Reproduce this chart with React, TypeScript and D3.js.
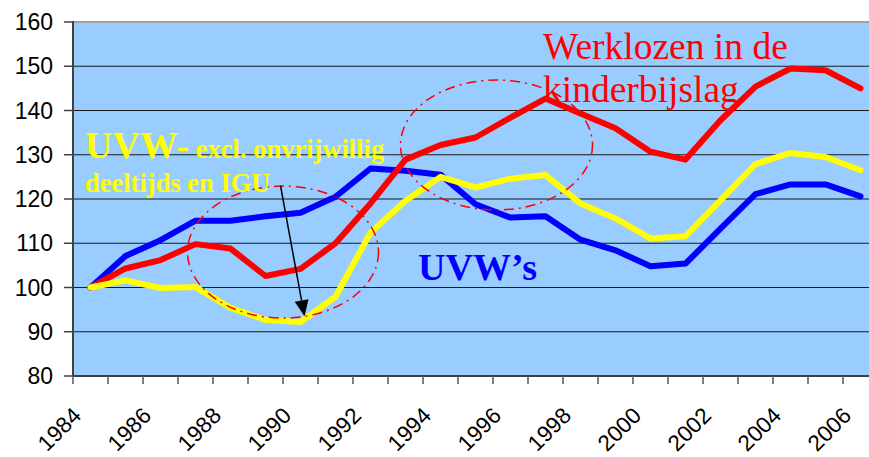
import React from 'react';
import * as d3 from 'd3';

const years = [1984, 1985, 1986, 1987, 1988, 1989, 1990, 1991, 1992, 1993, 1994, 1995,
  1996, 1997, 1998, 1999, 2000, 2001, 2002, 2003, 2004, 2005, 2006];

const uvw = [100, 107.1, 110.7, 115.1, 115.1, 116.1, 116.9, 120.5, 126.9, 126.4, 125.5, 118.8,
  115.8, 116.1, 110.8, 108.4, 104.8, 105.4, 113.3, 121.1, 123.3, 123.3, 120.6];
const kinderbijslag = [100, 104.3, 106.2, 109.8, 108.8, 102.6, 104.2, 110.0, 119.0, 128.9, 132.2, 133.9,
  138.4, 142.7, 139.3, 136.0, 130.7, 128.9, 137.8, 145.4, 149.5, 149.1, 145.0];
const uvwExcl = [100, 101.6, 99.9, 100.1, 95.4, 92.7, 92.2, 97.9, 112.4, 119.6, 125.0, 122.6,
  124.6, 125.4, 119.0, 115.6, 111.1, 111.6, 119.7, 127.9, 130.4, 129.5, 126.5];

const yTicks = [80, 90, 100, 110, 120, 130, 140, 150, 160];
const labelYears = [1984, 1986, 1988, 1990, 1992, 1994, 1996, 1998, 2000, 2002, 2004, 2006];

const width = 869;
const height = 457;
const left = 73;
const top = 22;
const bottom = 376;
const bw = 35;

const sans = '"Liberation Sans", Arial, sans-serif';
const serif = '"Liberation Serif", "Times New Roman", serif';

export default function App() {
  const x = d3.scaleBand<number>().domain(years).range([left, left + bw * years.length]);
  const y = d3.scaleLinear().domain([80, 160]).range([bottom, top]);
  const cx = (yr: number) => (x(yr) as number) + x.bandwidth() / 2;

  const line = d3.line<number>()
    .x((_, i) => cx(years[i]))
    .y(d => y(d));

  const series = [
    { name: "UVW's", values: uvw, color: '#0000ff' },
    { name: 'Werklozen in de kinderbijslag', values: kinderbijslag, color: '#ff0000' },
    { name: 'UVW- excl. onvrijwillig deeltijds en IGU', values: uvwExcl, color: '#ffff00' },
  ];

  const plotRight = left + bw * years.length;
  const tickEdges = years.map(yr => x(yr) as number).concat([plotRight]);

  // annotation positions, in chart coordinates
  const e1 = { cx: cx(1989) + bw / 2, cy: y(108), rx: 95.5, ry: 66 };
  const e2 = { cx: cx(1995) + 0.6 * bw, cy: y(132.2), rx: 96, ry: 65 };
  const arrow = { x1: cx(1990) - 20, y1: y(123), x2: cx(1990) + 4, y2: y(93.5) };
  const ang = Math.atan2(arrow.y2 - arrow.y1, arrow.x2 - arrow.x1);
  const headLen = 16, headW = 7;
  const bx = arrow.x2 - headLen * Math.cos(ang), by = arrow.y2 - headLen * Math.sin(ang);
  const head = [
    [arrow.x2, arrow.y2],
    [bx + headW * Math.sin(ang), by - headW * Math.cos(ang)],
    [bx - headW * Math.sin(ang), by + headW * Math.cos(ang)],
  ].map(p => p.join(',')).join(' ');

  const dash = '10,5,2,5';

  return (
    <svg width={width} height={height} style={{ position: 'absolute', left: 0, top: 0, background: '#fff' }}>
      <rect x={left} y={top} width={plotRight - left} height={bottom - top} fill="#99ccff" />
      {yTicks.filter(t => t > 80 && t < 160).map(t => (
        <line key={t} x1={left} x2={plotRight} y1={y(t)} y2={y(t)} stroke="#1a1a1a" strokeWidth={1.2} />
      ))}
      <line x1={left} x2={plotRight} y1={top} y2={top} stroke="#a0a0a0" strokeWidth={2} />

      {/* y axis */}
      <line x1={left} x2={left} y1={top - 1} y2={bottom + 1} stroke="#404040" strokeWidth={2} />
      {yTicks.map(t => (
        <g key={t}>
          <line x1={left - 9} x2={left} y1={y(t)} y2={y(t)} stroke="#404040" strokeWidth={1.5} />
          <text x={53} y={y(t)} dy="0.35em" textAnchor="end" fontFamily={sans} fontSize={23} fill="#000">{t}</text>
        </g>
      ))}

      {/* x axis */}
      <line x1={left} x2={plotRight} y1={bottom} y2={bottom} stroke="#404040" strokeWidth={2} />
      {tickEdges.map((tx, i) => (
        <line key={i} x1={tx} x2={tx} y1={bottom} y2={bottom + 8} stroke="#555" strokeWidth={1.5} />
      ))}
      {labelYears.map(yr => (
        <text key={yr} transform={`translate(${cx(yr) - 8},${417}) rotate(-45)`} textAnchor="end"
          fontFamily={sans} fontSize={22.5} fill="#000">{yr}</text>
      ))}

      {/* series */}
      {series.map(s => (
        <path key={s.name} d={line(s.values) || ''} fill="none" stroke={s.color} strokeWidth={6}
          strokeLinejoin="round" strokeLinecap="round" />
      ))}

      {/* annotations */}
      <ellipse cx={e1.cx} cy={e1.cy} rx={e1.rx} ry={e1.ry} fill="none" stroke="#ff0000" strokeWidth={1.5} strokeDasharray={dash} />
      <ellipse cx={e2.cx} cy={e2.cy} rx={e2.rx} ry={e2.ry} fill="none" stroke="#ff0000" strokeWidth={1.5} strokeDasharray={dash} />
      <line x1={arrow.x1} y1={arrow.y1} x2={bx} y2={by} stroke="#000" strokeWidth={1.5} />
      <polygon points={head} fill="#000" />

      <text x={85} y={158} fontFamily={serif} fontWeight="bold" fill="#ffff00">
        <tspan fontSize={38}>UVW-</tspan>
        <tspan fontSize={26.5}> excl. onvrijwillig</tspan>
      </text>
      <text x={85} y={192} fontFamily={serif} fontWeight="bold" fontSize={26.5} fill="#ffff00">deeltijds en IGU</text>
      <text x={418} y={280} fontFamily={serif} fontWeight="bold" fontSize={38} fill="#0000ff">UVW’s</text>
      <text x={543} y={59} fontFamily={serif} fontSize={37.5} fill="#ff0000">Werklozen in de</text>
      <text x={543} y={102} fontFamily={serif} fontSize={37.5} fill="#ff0000">kinderbijslag</text>
    </svg>
  );
}
